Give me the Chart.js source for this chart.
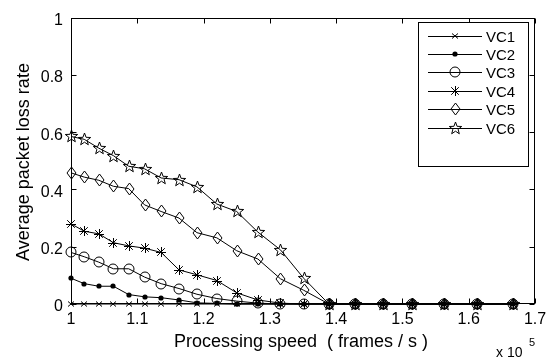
<!DOCTYPE html>
<html><head><meta charset="utf-8">
<script src="https://cdn.jsdelivr.net/npm/chart.js@4"></script>
<style>html,body{margin:0;padding:0;background:#fff}canvas{display:block}</style>
</head><body>
<canvas id="c" width="555" height="358"></canvas>
<script>
// ---- data ----
const speeds = [1.000,1.020,1.042,1.064,1.087,1.111,1.136,1.163,1.190,1.220,1.250,1.282,1.316,1.351,1.389,1.429,1.471,1.515,1.563,1.613,1.667];
const vc1 = [0,0,0,0,0,0,0,0,0,0,0,0,0,0,0,0,0,0,0,0,0];
const vc2 = [0.090,0.071,0.062,0.062,0.033,0.025,0.022,0.014,0.004,0.002,0,0,0,0,0,0,0,0,0,0,0];
const vc3 = [0.180,0.165,0.146,0.123,0.123,0.094,0.071,0.054,0.034,0.019,0.010,0.003,0,0,0,0,0,0,0,0,0];
const vc4 = [0.280,0.254,0.245,0.214,0.203,0.195,0.180,0.119,0.102,0.082,0.039,0.014,0.003,0,0,0,0,0,0,0,0];
const vc5 = [0.458,0.443,0.432,0.411,0.403,0.346,0.323,0.300,0.249,0.231,0.186,0.157,0.088,0.048,0,0,0,0,0,0,0];
const vc6 = [0.585,0.575,0.544,0.518,0.481,0.472,0.440,0.434,0.409,0.349,0.323,0.251,0.189,0.090,0,0,0,0,0,0,0];
const seriesNames = ['VC1','VC2','VC3','VC4','VC5','VC6'];
const xTickValues = [1,1.1,1.2,1.3,1.4,1.5,1.6,1.7];
const xTickLabels = ['1','1.1','1.2','1.3','1.4','1.5','1.6','1.7'];
const yTickValues = [0,0.2,0.4,0.6,0.8,1];
const yTickLabels = ['0','0.2','0.4','0.6','0.8','1'];
const xTitle = 'Processing speed  ( frames / s )';
const yTitle = 'Average packet loss rate';

const FONT = '"Liberation Sans", Arial, sans-serif';

// ---- marker images ----
function mk(draw){
  const c = document.createElement('canvas'); c.width = 16; c.height = 16;
  const g = c.getContext('2d'); g.strokeStyle = '#000'; g.fillStyle = '#000'; g.lineWidth = 1;
  draw(g, 8); return c;
}
const markers = [
  mk((g,c)=>{ g.beginPath(); g.moveTo(c-3,c-2.5); g.lineTo(c+3,c+2.5); g.moveTo(c-3,c+2.5); g.lineTo(c+3,c-2.5); g.stroke(); }),
  mk((g,c)=>{ g.beginPath(); g.arc(c,c,2.6,0,Math.PI*2); g.fill(); }),
  mk((g,c)=>{ g.beginPath(); g.arc(c,c,5,0,Math.PI*2); g.stroke(); }),
  mk((g,c)=>{ g.beginPath(); g.moveTo(c-5,c+0.5); g.lineTo(c+5,c+0.5); g.moveTo(c+0.5,c-5); g.lineTo(c+0.5,c+5);
              g.moveTo(c-3.8,c-3.8); g.lineTo(c+3.8,c+3.8); g.moveTo(c-3.8,c+3.8); g.lineTo(c+3.8,c-3.8); g.stroke(); }),
  mk((g,c)=>{ g.beginPath(); g.moveTo(c+0.5,c-6); g.lineTo(c+5,c); g.lineTo(c+0.5,c+6); g.lineTo(c-4,c); g.closePath(); g.stroke(); }),
  mk((g,c)=>{ g.beginPath(); for(let i=0;i<10;i++){ const r = i%2? 2.7 : 6.5; const a = -Math.PI/2 + i*Math.PI/5;
              const px = c + 0.5 + r*Math.cos(a), py = c + 0.5 + r*Math.sin(a); i? g.lineTo(px,py) : g.moveTo(px,py);} g.closePath(); g.stroke(); })
];

const seriesValues = [vc1,vc2,vc3,vc4,vc5,vc6];
const datasets = seriesValues.map((vals,i)=>({
  label: seriesNames[i],
  data: speeds.map((s,j)=>({x:s, y:vals[j]})),
  borderColor:'#000', borderWidth:1, backgroundColor:'transparent',
  pointStyle: markers[i], pointRadius:5, pointHoverRadius:5, tension:0, clip:false
}));

const frame = {
  id:'frame',
  beforeDatasetsDraw(chart){
    const {ctx, chartArea:a, scales:{x,y}} = chart;
    const L = Math.round(a.left)+0.5, R = Math.round(a.right)-0.5, T = Math.round(a.top)+0.5, B = Math.round(a.bottom)-0.5;
    ctx.save(); ctx.strokeStyle='#000'; ctx.lineWidth=1;
    ctx.strokeRect(L,T,R-L,B-T);
    ctx.beginPath();
    xTickValues.forEach(v=>{ const px = Math.round(x.getPixelForValue(v))+0.5; ctx.moveTo(px,B); ctx.lineTo(px,B-5); ctx.moveTo(px,T); ctx.lineTo(px,T+5); });
    yTickValues.forEach(v=>{ const py = Math.round(y.getPixelForValue(v))+0.5; ctx.moveTo(L,py); ctx.lineTo(L+5,py); ctx.moveTo(R,py); ctx.lineTo(R-5,py); });
    ctx.stroke(); ctx.restore();
    ctx.imageSmoothingEnabled = false;
  },
  afterDatasetsDraw(chart){ chart.ctx.imageSmoothingEnabled = true; },
  afterDraw(chart){
    const ctx = chart.ctx;
    ctx.save(); ctx.fillStyle='#000';
    ctx.font = '18px ' + FONT; ctx.textAlign='center'; ctx.textBaseline='alphabetic';
    ctx.fillText(xTitle, 301, 347);
    ctx.save(); ctx.translate(29, 162); ctx.rotate(-Math.PI/2); ctx.fillText(yTitle, 0, 0); ctx.restore();
    ctx.textAlign='left';
    ctx.font = '14px ' + FONT; ctx.fillText('x 10', 496, 357);
    ctx.font = '11px ' + FONT; ctx.fillText('5', 529, 346);
    const bx=418.5, by=22.5, bw=110, bh=144;
    ctx.fillStyle='#fff'; ctx.fillRect(bx,by,bw,bh);
    ctx.strokeStyle='#000'; ctx.lineWidth=1; ctx.strokeRect(bx,by,bw,bh);
    ctx.font = '15px ' + FONT; ctx.textBaseline='middle';
    ctx.imageSmoothingEnabled = false;
    seriesNames.forEach((n,i)=>{
      const ry = Math.round(35.5 + i*18.4) + 0.5;
      ctx.beginPath(); ctx.moveTo(428,ry); ctx.lineTo(482,ry); ctx.stroke();
      ctx.drawImage(markers[i], 455-8, ry-8.5);
      ctx.fillStyle='#000'; ctx.fillText(n, 486, ry+1);
    });
    ctx.restore();
  }
};

new Chart(document.getElementById('c'), {
  type:'line',
  data:{ datasets },
  options:{
    responsive:false, animation:false, devicePixelRatio:1,
    layout:{ padding:{ left:0, top:13, right:20, bottom:0 } },
    plugins:{ legend:{display:false}, tooltip:{enabled:false} },
    scales:{
      x:{ type:'linear', min:1, max:1.7,
          afterBuildTicks: s => { s.ticks = xTickValues.map(v=>({value:v})); },
          afterFit: s => { s.height = 54; },
          ticks:{ callback:(v,i)=>xTickLabels[i], color:'#000', font:{family:FONT, size:16}, padding:6, maxRotation:0, autoSkip:false },
          grid:{ display:false, drawTicks:false }, border:{ display:false } },
      y:{ type:'linear', min:0, max:1,
          afterBuildTicks: s => { s.ticks = yTickValues.map(v=>({value:v})); },
          afterFit: s => { s.width = 71; },
          ticks:{ callback:(v,i)=>yTickLabels[i], color:'#000', font:{family:FONT, size:16}, padding:8, labelOffset:3, autoSkip:false },
          grid:{ display:false, drawTicks:false }, border:{ display:false } }
    }
  },
  plugins:[frame]
});
</script>
</body></html>
